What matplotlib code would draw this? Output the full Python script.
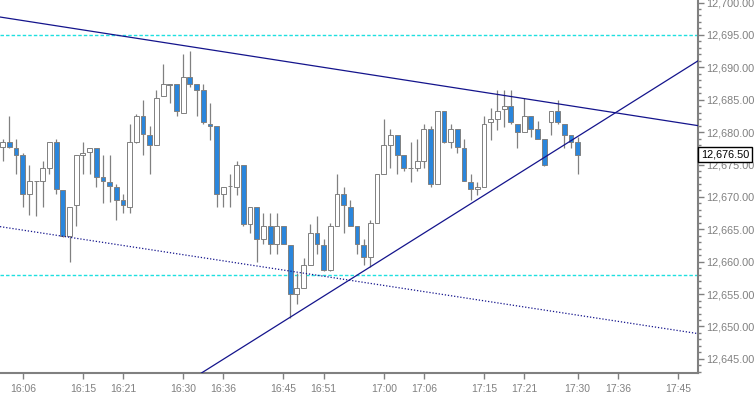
import numpy as np
import matplotlib
matplotlib.use("Agg")
import matplotlib.pyplot as plt
from matplotlib.ticker import MultipleLocator, StrMethodFormatter
from matplotlib.transforms import blended_transform_factory

plt.rcParams['font.family'] = ['Liberation Sans', 'DejaVu Sans']

# 1-minute candles, 16:03 .. 17:30
opens = [12677.75, 12678.5, 12677.5, 12676.5, 12670.5, 12672.5, 12672.5, 12674.5, 12678.5, 12671.0,
         12664.0, 12668.75, 12676.5, 12677.0, 12677.5, 12673.0, 12672.25, 12671.5, 12669.5, 12668.5,
         12678.5, 12682.5, 12679.5, 12678.0, 12685.5, 12687.5, 12687.5, 12683.0, 12688.5, 12687.5,
         12686.5, 12681.25, 12681.0, 12670.5, 12671.75, 12671.5, 12675.0, 12665.75, 12668.5, 12663.5,
         12665.5, 12662.75, 12665.5, 12662.5, 12655.0, 12656.0, 12659.5, 12664.5, 12662.5, 12658.75,
         12665.5, 12670.5, 12668.5, 12665.5, 12662.5, 12660.75, 12666.0, 12673.5, 12678.0, 12679.5,
         12676.5, 12674.5, 12674.5, 12675.5, 12680.5, 12672.0, 12683.25, 12678.5, 12680.5, 12677.5,
         12672.25, 12671.25, 12671.5, 12681.5, 12682.0, 12683.5, 12684.0, 12681.25, 12680.0, 12682.5,
         12680.5, 12679.0, 12681.5, 12683.25, 12681.25, 12679.5, 12678.5]
highs = [12679.0, 12682.5, 12679.0, 12676.75, 12675.0, 12672.5, 12675.5, 12678.5, 12679.0, 12671.0,
         12668.5, 12676.5, 12678.5, 12677.5, 12677.5, 12676.5, 12676.5, 12672.0, 12670.5, 12681.25,
         12682.75, 12685.0, 12681.0, 12686.5, 12690.5, 12687.5, 12687.5, 12692.0, 12692.5, 12687.5,
         12687.5, 12684.5, 12681.0, 12671.5, 12673.5, 12675.5, 12675.0, 12668.5, 12668.5, 12667.5,
         12667.5, 12667.5, 12665.5, 12662.5, 12658.25, 12660.5, 12665.75, 12667.0, 12663.5, 12666.0,
         12673.5, 12671.5, 12669.5, 12665.5, 12663.5, 12666.5, 12673.5, 12682.0, 12680.5, 12679.5,
         12676.5, 12678.5, 12679.0, 12681.25, 12681.0, 12683.25, 12683.25, 12681.25, 12680.5, 12679.0,
         12673.5, 12672.25, 12682.5, 12683.75, 12686.5, 12686.5, 12686.5, 12681.25, 12685.25, 12682.5,
         12681.75, 12679.0, 12683.25, 12685.0, 12681.25, 12679.5, 12679.25]
lows = [12675.5, 12677.5, 12673.5, 12668.5, 12667.25, 12667.0, 12668.5, 12673.5, 12670.5, 12663.75,
        12660.0, 12665.5, 12673.5, 12673.5, 12671.5, 12669.0, 12669.25, 12666.5, 12667.5, 12667.5,
        12678.25, 12676.5, 12673.5, 12678.0, 12685.5, 12684.5, 12682.5, 12683.0, 12687.0, 12682.5,
        12681.25, 12678.75, 12668.5, 12668.5, 12668.5, 12670.25, 12665.5, 12664.5, 12660.0, 12662.75,
        12661.25, 12661.25, 12662.75, 12651.25, 12653.5, 12656.0, 12659.5, 12661.25, 12658.5, 12658.5,
        12665.5, 12664.5, 12665.5, 12661.25, 12659.5, 12659.25, 12666.0, 12673.5, 12674.5, 12673.5,
        12674.0, 12672.25, 12674.0, 12674.5, 12671.5, 12672.0, 12678.25, 12677.5, 12676.75, 12672.5,
        12669.5, 12670.25, 12671.5, 12678.75, 12680.25, 12680.75, 12681.25, 12677.5, 12680.0, 12679.25,
        12679.0, 12674.75, 12679.5, 12681.25, 12677.5, 12677.5, 12673.5]
closes = [12678.5, 12677.75, 12676.5, 12670.5, 12672.5, 12672.5, 12674.5, 12678.5, 12671.25, 12664.0,
          12668.5, 12676.5, 12676.75, 12677.5, 12673.0, 12672.5, 12671.75, 12669.5, 12668.75, 12678.5,
          12682.5, 12679.75, 12678.0, 12685.25, 12687.5, 12687.25, 12683.25, 12688.5, 12687.5, 12686.5,
          12681.5, 12681.0, 12670.5, 12671.5, 12671.75, 12675.0, 12665.75, 12668.5, 12663.5, 12665.5,
          12662.75, 12665.5, 12662.75, 12655.0, 12656.0, 12659.5, 12664.5, 12662.75, 12658.75, 12665.5,
          12670.5, 12668.75, 12665.5, 12662.75, 12660.75, 12666.0, 12673.5, 12678.0, 12679.5, 12676.5,
          12674.5, 12674.5, 12675.5, 12680.5, 12672.0, 12683.25, 12678.5, 12680.5, 12677.75, 12672.5,
          12671.25, 12671.5, 12681.25, 12682.0, 12683.25, 12684.0, 12681.5, 12680.0, 12682.5, 12680.5,
          12679.0, 12675.0, 12683.25, 12681.5, 12679.5, 12678.5, 12676.5]

tick_pos = [3, 12, 18, 27, 33, 42, 48, 57, 63, 72, 78, 86, 92, 101]
tick_labels = ["16:06", "16:15", "16:21", "16:30", "16:36", "16:45", "16:51",
               "17:00", "17:06", "17:15", "17:21", "17:30", "17:36", "17:45"]

# trend lines: (bar index, price) pairs
upper_line = [(0, 12697.7), (104, 12681.0)]
rising_line = [(29.7, 12642.8), (104, 12691.0)]
lower_dotted = [(0, 12665.35), (104, 12648.9)]
levels = [12695.0, 12658.0]
last_price = 12676.5

gray = '#808080'
blue = '#2a86dc'

fig = plt.figure(figsize=(7.56, 3.95), dpi=100)
ax = fig.add_axes([0, 22 / 395, 698 / 756, 373 / 395])

o = np.array(opens); h = np.array(highs); l = np.array(lows); c = np.array(closes)
x = np.arange(len(o))
up = c >= o
ax.vlines(x, l, h, color=gray, lw=0.9, zorder=2)
ax.bar(x, np.abs(c - o), bottom=np.minimum(o, c), width=0.72,
       color=np.where(up, 'white', blue), edgecolor=gray, linewidth=0.7, zorder=3)

for lv in levels:
    ax.axhline(lv, color='#1fe0e0', lw=1.0, ls=(0, (2.5, 1.5)), zorder=1)

ax.axline(*upper_line, color='#14148c', lw=0.9, zorder=4)
ax.axline(*rising_line, color='#14148c', lw=0.9, zorder=4)
ax.axline(*lower_dotted, color='#14148c', lw=0.9, ls=(0, (1, 1.5)), zorder=4)

ax.set_xlim(-0.4, 104.0)
ax.set_ylim(12642.82, 12700.39)

for s in ['top', 'left']:
    ax.spines[s].set_visible(False)
for s in ['right', 'bottom']:
    ax.spines[s].set_color(gray)
    ax.spines[s].set_linewidth(1.5)

ax.yaxis.tick_right()
ax.yaxis.set_major_locator(MultipleLocator(5))
ax.yaxis.set_minor_locator(MultipleLocator(1))
ax.yaxis.set_major_formatter(StrMethodFormatter('{x:,.2f}'))
ax.tick_params(axis='y', which='major', length=4, width=1, color=gray,
               labelcolor=gray, labelsize=7.8, pad=2)
ax.tick_params(axis='y', which='minor', length=2.5, width=1, color=gray)

ax.set_xticks(tick_pos)
ax.set_xticklabels(tick_labels)
ax.tick_params(axis='x', length=4, width=1, color=gray, labelcolor=gray,
               labelsize=7.5, pad=4)

tr = blended_transform_factory(ax.transAxes, ax.transData)
ax.text(1.0045, last_price, f"{last_price:,.2f}", transform=tr, ha='left', va='center',
        fontsize=7.8, color='black', clip_on=False, zorder=10,
        bbox=dict(boxstyle='square,pad=0.25', fc='white', ec='black', lw=1))

fig.savefig('out.png', dpi=100)
